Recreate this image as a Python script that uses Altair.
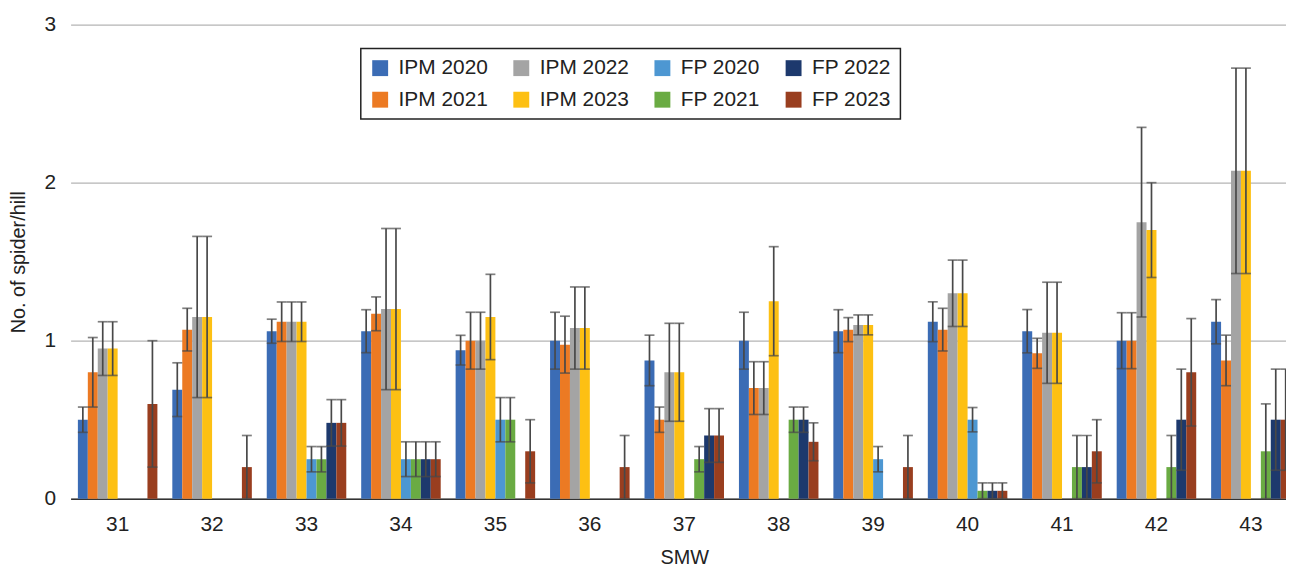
import altair as alt
import pandas as pd

smw = [31, 32, 33, 34, 35, 36, 37, 38, 39, 40, 41, 42, 43]

series_order = ["IPM 2020", "IPM 2021", "IPM 2022", "IPM 2023",
                "FP 2020", "FP 2021", "FP 2022", "FP 2023"]
colors = {"IPM 2020": "#3B6CB5", "IPM 2021": "#EC7A23", "IPM 2022": "#A4A4A4",
          "IPM 2023": "#FDC013", "FP 2020": "#4D97D2", "FP 2021": "#6AAB43",
          "FP 2022": "#1D396D", "FP 2023": "#993E1F"}

ipm2020 = [0.50, 0.69, 1.06, 1.06, 0.94, 1.00, 0.875, 1.00, 1.06, 1.12, 1.06, 1.00, 1.12]
ipm2020_err = [0.08, 0.17, 0.076, 0.136, 0.094, 0.18, 0.16, 0.18, 0.136, 0.126, 0.137, 0.177, 0.14]
ipm2021 = [0.80, 1.07, 1.12, 1.17, 1.00, 0.975, 0.50, 0.70, 1.07, 1.07, 0.92, 1.00, 0.875]
ipm2021_err = [0.22, 0.135, 0.125, 0.107, 0.18, 0.18, 0.08, 0.167, 0.076, 0.135, 0.095, 0.177, 0.16]
ipm2022 = [0.95, 1.15, 1.12, 1.20, 1.00, 1.08, 0.80, 0.70, 1.10, 1.30, 1.05, 1.75, 2.075]
ipm2022_err = [0.17, 0.51, 0.125, 0.51, 0.18, 0.26, 0.31, 0.167, 0.063, 0.21, 0.32, 0.60, 0.65]
ipm2023 = [0.95, 1.15, 1.12, 1.20, 1.15, 1.08, 0.80, 1.25, 1.10, 1.30, 1.05, 1.70, 2.075]
ipm2023_err = [0.17, 0.51, 0.125, 0.51, 0.27, 0.26, 0.31, 0.345, 0.063, 0.21, 0.32, 0.30, 0.65]
fp2020 = [0, 0, 0.25, 0.25, 0.50, 0, 0, 0, 0.25, 0.50, 0, 0, 0]
fp2020_err = [0, 0, 0.08, 0.11, 0.14, 0, 0, 0, 0.08, 0.077, 0, 0, 0]
fp2021 = [0, 0, 0.25, 0.25, 0.50, 0, 0.25, 0.50, 0, 0.05, 0.20, 0.20, 0.30]
fp2021_err = [0, 0, 0.08, 0.11, 0.14, 0, 0.08, 0.08, 0, 0.05, 0.20, 0.20, 0.30]
fp2022 = [0, 0, 0.48, 0.25, 0, 0, 0.40, 0.50, 0, 0.05, 0.20, 0.50, 0.50]
fp2022_err = [0, 0, 0.147, 0.11, 0, 0, 0.17, 0.08, 0, 0.05, 0.20, 0.32, 0.32]
fp2023 = [0.60, 0.20, 0.48, 0.25, 0.30, 0.20, 0.40, 0.36, 0.20, 0.05, 0.30, 0.80, 0.50]
fp2023_err = [0.40, 0.20, 0.147, 0.11, 0.20, 0.20, 0.17, 0.12, 0.20, 0.05, 0.20, 0.34, 0.32]

means = [ipm2020, ipm2021, ipm2022, ipm2023, fp2020, fp2021, fp2022, fp2023]
errs = [ipm2020_err, ipm2021_err, ipm2022_err, ipm2023_err,
        fp2020_err, fp2021_err, fp2022_err, fp2023_err]

rows = []
for name, m, e in zip(series_order, means, errs):
    for w, v, d in zip(smw, m, e):
        rows.append({"SMW": str(w), "series": name, "value": v,
                     "lo": max(v - d, 0), "hi": v + d})
df = pd.DataFrame(rows)

FONT = "Liberation Sans"

x = alt.X("SMW:N", title="SMW",
          scale=alt.Scale(paddingInner=0.158, paddingOuter=0.077),
          axis=alt.Axis(labelAngle=0, ticks=False, domain=True, domainColor="#333333",
                        domainWidth=1.6, labelFontSize=21, labelColor="#222222",
                        labelPadding=15, titleFontSize=20, titleFontWeight="normal",
                        titleColor="#222222", titlePadding=13, labelFont=FONT, titleFont=FONT))
xo = alt.XOffset("series:N", sort=series_order,
                 scale=alt.Scale(paddingInner=0, paddingOuter=0))
y = alt.Y("value:Q", title="No. of spider/hill",
          scale=alt.Scale(domain=[0, 3], nice=False),
          axis=alt.Axis(values=[0, 1, 2, 3], format="d", ticks=False, domain=False, grid=True,
                        gridColor="#B4B4B4", gridWidth=1.3, labelFontSize=21,
                        labelColor="#222222", labelPadding=15, titleFontSize=20,
                        titleFontWeight="normal", titleColor="#222222", titlePadding=16,
                        labelFont=FONT, titleFont=FONT))

bars = alt.Chart(df).mark_bar(strokeWidth=0).encode(
    x=x, xOffset=xo, y=y,
    color=alt.Color("series:N",
                    scale=alt.Scale(domain=series_order,
                                    range=[colors[s] for s in series_order]),
                    legend=alt.Legend(title=None, orient="none", legendX=292, legendY=24,
                                      columns=4, symbolType="square", symbolSize=256,
                                      symbolStrokeWidth=0, labelFontSize=21, labelFont=FONT,
                                      labelColor="#222222", labelOffset=8,
                                      columnPadding=23, rowPadding=10, padding=9,
                                      strokeColor="#222222", fillColor="white"))
)

err_df = alt.Chart(df).transform_filter("datum.value > 0")
rules = err_df.mark_rule(color="#484848", strokeWidth=1.7).encode(
    x=x, xOffset=xo, y=alt.Y("lo:Q"), y2="hi:Q")
cap_hi = err_df.mark_tick(color="#484848", thickness=1.7, size=10).encode(
    x=x, xOffset=xo, y=alt.Y("hi:Q"))
cap_lo = err_df.mark_tick(color="#484848", thickness=1.7, size=10).encode(
    x=x, xOffset=xo, y=alt.Y("lo:Q"))

chart = alt.layer(bars, rules, cap_hi, cap_lo).properties(
    width=1235, height=477,
    autosize=alt.AutoSizeParams(type="none"),
    padding={"left": 63, "top": 15, "right": -12, "bottom": 73},
).configure_view(stroke=None).configure_legend(strokeWidth=1.5)

chart.save("out.html", embed_options={"renderer": "svg", "actions": False})
